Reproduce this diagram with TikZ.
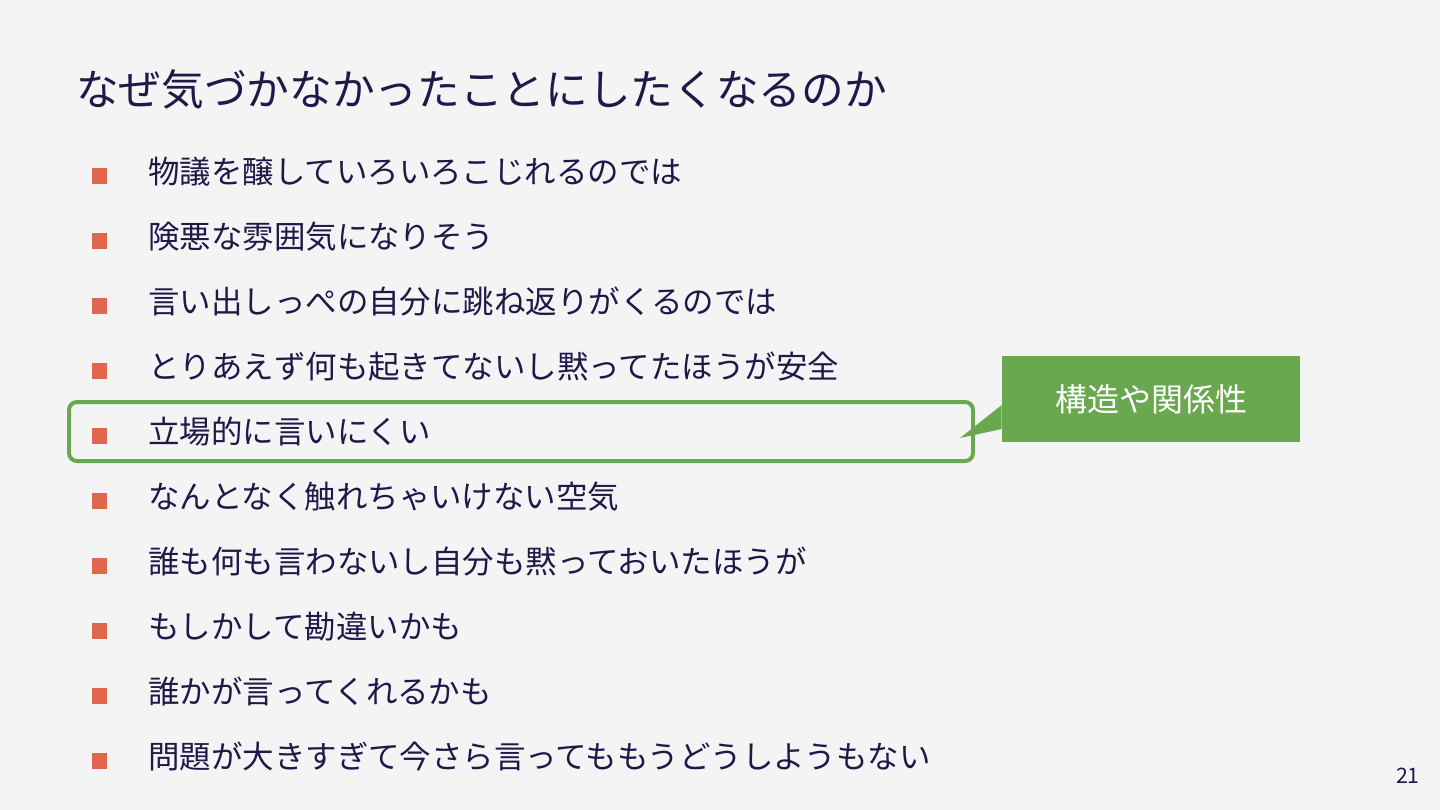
\documentclass[tikz,border=0pt]{standalone}
\usepackage{fontspec}
\setmainfont{Noto Sans CJK JP}
\usetikzlibrary{positioning}
\definecolor{bgc}{HTML}{F4F4F4}
\definecolor{ink}{HTML}{1E1A48}
\definecolor{bul}{HTML}{E0664E}
\definecolor{grn}{HTML}{6AA84F}
\tikzset{
  bulletsq/.style={fill=bul,minimum size=11.5pt,inner sep=0pt,draw=none},
  item/.style={anchor=west,inner sep=0pt,text=ink,font=\fontsize{23.6}{24}\selectfont,text height=0.8em,text depth=0.05em},
}
\begin{document}
\begin{tikzpicture}[x=0.75pt,y=-0.75pt]
\fill[bgc] (0,0) rectangle (1440,810);
\useasboundingbox (0,0) rectangle (1440,810);
\node[anchor=west,inner sep=0pt,text=ink,font=\fontsize{32}{32}\selectfont,text height=0.8em,text depth=0.05em] (title) at (76,100) {なぜ気づかなかったことにしたくなるのか};
\foreach \i/\t in {1/物議を醸していろいろこじれるのでは,2/険悪な雰囲気になりそう,3/言い出しっぺの自分に跳ね返りがくるのでは,4/とりあえず何も起きてないし黙ってたほうが安全,5/立場的に言いにくい,6/なんとなく触れちゃいけない空気,7/誰も何も言わないし自分も黙っておいたほうが,8/もしかして勘違いかも,9/誰かが言ってくれるかも,10/問題が大きすぎて今さら言ってももうどうしようもない}{
  \node[bulletsq] (b\i) at (99.5,{176+65*(\i-1)}) {};
  \node[item] (t\i) at (148,{178+65*(\i-1)}) {\t};
}
\node[draw=grn,line width=3pt,rounded corners=6pt,minimum width=904*0.75pt,minimum height=59*0.75pt,inner sep=0pt] (hl) at (521,431.5) {};
\node[fill=grn,minimum width=298*0.75pt,minimum height=86*0.75pt,inner sep=0pt,text=white,font=\fontsize{24}{24}\selectfont] (co) at (1151,399) {構造や関係性};
\coordinate (tip) at (960,438);
\fill[grn] (co.west |- 0,405) -- (tip) -- (co.west |- 0,429) -- cycle;
\node[anchor=east,inner sep=0pt,text=ink,font=\fontsize{16}{16}\selectfont] (pg) at (1420,776) {21};
\end{tikzpicture}
\end{document}
